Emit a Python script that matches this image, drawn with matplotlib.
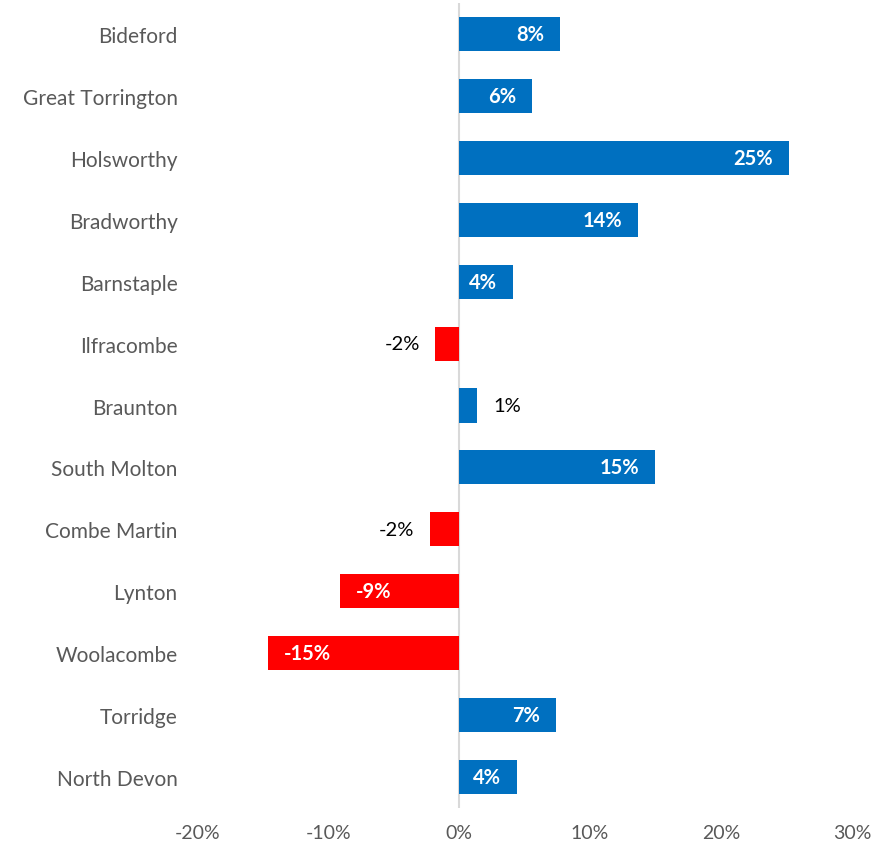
import matplotlib.pyplot as plt

plt.rcParams['font.family'] = ['Lato', 'DejaVu Sans']

# Data
towns = ['Bideford', 'Great Torrington', 'Holsworthy', 'Bradworthy', 'Barnstaple',
         'Ilfracombe', 'Braunton', 'South Molton', 'Combe Martin', 'Lynton',
         'Woolacombe', 'Torridge', 'North Devon']
change = [7.7, 5.6, 25.2, 13.7, 4.1, -1.8, 1.4, 15.0, -2.2, -9.1, -14.6, 7.4, 4.4]

blue = '#0070C0'
red = '#FF0000'
colors = [blue if v >= 0 else red for v in change]

fig = plt.figure(figsize=(8.8, 8.54), dpi=100)
ax = fig.add_axes([0.224, 0.053, 0.744, 0.942])

y = list(range(len(towns)))
ax.barh(y, change, height=0.55, color=colors, zorder=2)
ax.axvline(0, color='#D9D9D9', linewidth=1.5, zorder=1)

for i, v in enumerate(change):
    lab = f'{round(v):.0f}%'
    if abs(v) >= 3:
        off = -1.2 if v > 0 else 1.2
        ax.text(v + off, i, lab, ha='right' if v > 0 else 'left', va='center',
                color='white', fontweight='bold', fontsize=14.5)
    else:
        off = 1.2 if v > 0 else -1.2
        ax.text(v + off, i, lab, ha='left' if v > 0 else 'right', va='center',
                color='black', fontsize=14.5)

ax.set_xlim(-20, 30)
ax.set_ylim(len(towns) - 0.5, -0.5)
ax.set_yticks(y)
ax.set_yticklabels(towns, fontsize=15, color='#595959')
ax.set_xticks([-20, -10, 0, 10, 20, 30])
ax.set_xticklabels(['-20%', '-10%', '0%', '10%', '20%', '30%'], fontsize=14, color='#595959')
ax.tick_params(length=0)
ax.tick_params(axis='y', pad=14)
ax.tick_params(axis='x', pad=12)
for s in ax.spines.values():
    s.set_visible(False)

plt.savefig('out.png', dpi=100)
